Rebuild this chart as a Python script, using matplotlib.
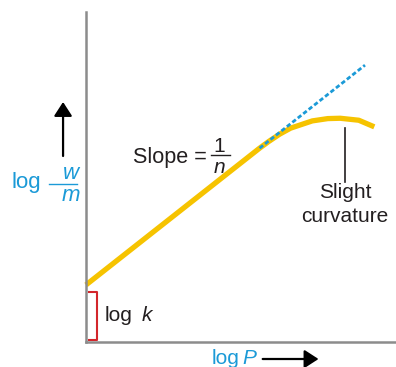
import numpy as np
import matplotlib
matplotlib.use('Agg')
import matplotlib.pyplot as plt

plt.rcParams['font.family'] = ['Liberation Sans', 'DejaVu Sans']

# values (arbitrary log units, 0..10 on both axes)
log_k = 1.73
slope = 0.74
line_x = np.array([0.0, 5.6])
curve_x = [5.6, 5.9, 6.25, 6.6, 7.3, 7.8, 8.2, 8.8, 9.3]
curve_y = [5.87, 6.08, 6.30, 6.48, 6.70, 6.77, 6.78, 6.72, 6.52]
dash_x = np.array([5.6, 9.0])

yellow = '#F6C300'
blue = '#1B9AD7'
red = '#D3262B'
ink = '#231F20'
fnt = 15


def py(p):
    # pixel row of the sketch -> data units
    return (342 - p) / 33


fig = plt.figure(figsize=(3.96, 3.67), dpi=100)
ax = fig.add_axes([86/396, 25/367, 310/396, 330/367])
ax.set_xlim(0, 10)
ax.set_ylim(0, 10)
for s in ['top', 'right']:
    ax.spines[s].set_visible(False)
for s in ['left', 'bottom']:
    ax.spines[s].set_color('#8C8C8C')
    ax.spines[s].set_linewidth(1.8)
ax.set_xticks([])
ax.set_yticks([])

# straight part + curvature
xs = np.concatenate([line_x, curve_x[1:]])
ys = np.concatenate([log_k + slope*line_x, curve_y[1:]])
ax.plot(xs, ys, color=yellow, lw=3.8, solid_capstyle='butt', solid_joinstyle='round', clip_on=False)
ax.plot(dash_x, log_k + slope*dash_x, color=blue, lw=2.0, ls=(0, (1.6, 0.9)), clip_on=False)

# log k bracket
ax.plot([0.1, 0.35, 0.35, 0.1], [log_k - 0.2, log_k - 0.2, 0.06, 0.06], color=red, lw=1.5, clip_on=False)
ax.text(0.6, 0.8, 'log', fontsize=fnt, color=ink, va='center')
ax.text(1.78, 0.8, 'k', fontsize=fnt, color=ink, va='center', style='italic')

# slope label
ax.text(1.52, py(163), 'Slope =', fontsize=15.6, color=ink, va='baseline')
ax.text(4.3, py(152), '1', fontsize=fnt, color=ink, va='baseline', ha='center')
ax.plot([4.03, 4.65], [py(154.5)]*2, color=ink, lw=1.0)
ax.text(4.3, py(173), 'n', fontsize=fnt, color=ink, va='baseline', ha='center', style='italic')

# slight curvature
ax.plot([8.35, 8.35], [py(128), py(182)], color=ink, lw=1.2)
ax.text(8.35, py(198), 'Slight', fontsize=fnt, color=ink, va='baseline', ha='center')
ax.text(8.35, py(222), 'curvature', fontsize=fnt, color=ink, va='baseline', ha='center')

# y label
ax.text(-2.4, py(188), 'log', fontsize=16, color=blue, va='baseline', clip_on=False)
ax.text(-0.48, py(179), 'w', fontsize=16, color=blue, va='baseline', ha='center', style='italic', clip_on=False)
ax.plot([-1.19, -0.29], [py(183.5)]*2, color=blue, lw=1.0, clip_on=False)
ax.text(-0.48, py(201), 'm', fontsize=16, color=blue, va='baseline', ha='center', style='italic', clip_on=False)
ax.annotate('', xy=(-0.74, py(102)), xytext=(-0.74, py(156)),
            arrowprops=dict(arrowstyle='-|>,head_length=0.85,head_width=0.55', color='black', lw=1.6,
                            mutation_scale=10, shrinkA=0, shrinkB=0), annotation_clip=False)

# x label
ax.text(4.06, py(364), 'log', fontsize=fnt, color=blue, va='baseline', clip_on=False)
ax.text(5.05, py(364), 'P', fontsize=fnt, color=blue, va='baseline', style='italic', clip_on=False)
ax.annotate('', xy=(7.5, py(359)), xytext=(5.7, py(359)),
            arrowprops=dict(arrowstyle='-|>,head_length=0.85,head_width=0.55', color='black', lw=1.6,
                            mutation_scale=10, shrinkA=0, shrinkB=0), annotation_clip=False)

fig.savefig('out.png', dpi=100)
